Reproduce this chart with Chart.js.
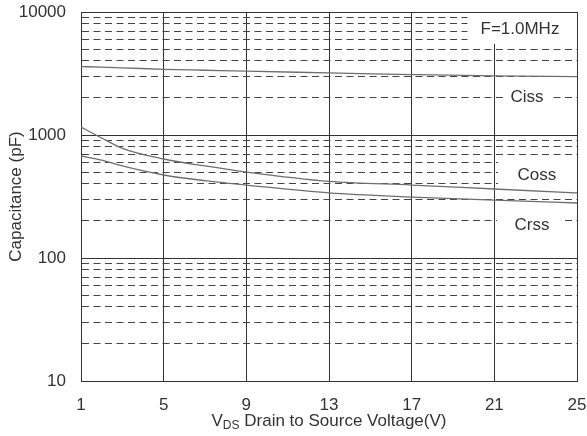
<!DOCTYPE html>
<html>
<head>
<meta charset="utf-8">
<script src="https://cdn.jsdelivr.net/npm/chart.js@4.4.0/dist/chart.umd.min.js"></script>
<style>
  html, body { margin: 0; padding: 0; background: #fff; }
</style>
</head>
<body>
<canvas id="capChart" width="587" height="436"></canvas>
<script>
// Capacitance vs. drain-source voltage
const xTicks = [1, 5, 9, 13, 17, 21, 25];
const decades = [10, 100, 1000, 10000];
const vds = [1, 2, 3, 5, 7, 9, 13, 17, 21, 25];
const ciss = [3600, 3560, 3520, 3420, 3360, 3300, 3200, 3100, 3020, 2980];
const coss = [1160, 946, 780, 638, 560, 500, 420, 392, 364, 338];
const crss = [675, 626, 560, 473, 425, 392, 338, 313, 296, 280];

// minor log ticks 20..90, 200..900, 2000..9000
const yTicks = [];
decades.forEach(function (d, i) {
    yTicks.push(d);
    if (i < decades.length - 1) {
        for (let m = 2; m <= 9; m++) yTicks.push(d * m);
    }
});

// text notes on the plot, anchored in data units
const notes = [
    { text: 'F=1.0MHz', x: 22.24, y: 7280, box: [19.7, 25, 9815, 5500] },
    { text: 'Ciss', x: 22.58, y: 2037, box: [21.42, 23.69, 2500, 1660] },
    { text: 'Coss', x: 23.06, y: 473, box: [21.18, 25, 662, 385] },
    { text: 'Crss', x: 22.82, y: 185, box: [21.13, 24.32, 245, 146] }
];

const FONT = "'Liberation Sans', Arial, sans-serif";
const TEXT = '#333';

function toPoints(ys) {
    return vds.map(function (x, i) { return { x: x, y: ys[i] }; });
}

const notePlugin = {
    id: 'notes',
    beforeDatasetsDraw(chart) {
        const c = chart.ctx;
        const xs = chart.scales.x, ys = chart.scales.y;
        c.save();
        notes.forEach(function (n) {
            const x0 = xs.getPixelForValue(n.box[0]);
            const x1 = xs.getPixelForValue(n.box[1]);
            const y0 = ys.getPixelForValue(n.box[2]);
            const y1 = ys.getPixelForValue(n.box[3]);
            c.fillStyle = '#fff';
            c.fillRect(x0, y0, x1 - x0, y1 - y0);
            c.fillStyle = TEXT;
            c.font = '17px ' + FONT;
            c.textAlign = 'center';
            c.textBaseline = 'middle';
            c.fillText(n.text, xs.getPixelForValue(n.x), ys.getPixelForValue(n.y));
        });
        c.restore();
    },
    afterDraw(chart) {
        // x axis title with subscript
        const c = chart.ctx;
        const area = chart.chartArea;
        const cx = (area.left + area.right) / 2;
        const cy = 420;
        const big = '17px ' + FONT, small = '12px ' + FONT;
        const rest = ' Drain to Source Voltage(V)';
        c.save();
        c.fillStyle = TEXT;
        c.textBaseline = 'alphabetic';
        c.textAlign = 'left';
        c.font = big;
        const wV = c.measureText('V').width;
        const wRest = c.measureText(rest).width;
        c.font = small;
        const wDS = c.measureText('DS').width;
        let x = cx - (wV + wDS + wRest) / 2;
        const base = cy + 6;
        c.font = big;
        c.fillText('V', x, base);
        x += wV;
        c.font = small;
        c.fillText('DS', x, base + 3);
        x += wDS;
        c.font = big;
        c.fillText(rest, x, base);
        c.restore();
    }
};

const ctx = document.getElementById('capChart').getContext('2d');
const capChart = new Chart(ctx, {
    type: 'line',
    data: {
        datasets: [{
            label: 'Ciss',
            data: toPoints(ciss),
            borderColor: '#6e6e6e',
            borderWidth: 1.3,
            pointRadius: 0,
            cubicInterpolationMode: 'monotone'
        }, {
            label: 'Coss',
            data: toPoints(coss),
            borderColor: '#6e6e6e',
            borderWidth: 1.3,
            pointRadius: 0,
            cubicInterpolationMode: 'monotone'
        }, {
            label: 'Crss',
            data: toPoints(crss),
            borderColor: '#6e6e6e',
            borderWidth: 1.3,
            pointRadius: 0,
            cubicInterpolationMode: 'monotone'
        }]
    },
    options: {
        responsive: false,
        animation: false,
        layout: { padding: { top: 12, right: 10, left: 0, bottom: 0 } },
        plugins: {
            legend: { display: false },
            tooltip: { enabled: false }
        },
        scales: {
            x: {
                type: 'linear',
                min: 1,
                max: 25,
                afterBuildTicks: function (scale) {
                    scale.ticks = xTicks.map(function (v) { return { value: v }; });
                },
                afterFit: function (scale) {
                    scale.height = 55;
                    scale.paddingLeft = 0;
                    scale.paddingRight = 0;
                },
                ticks: {
                    autoSkip: false,
                    maxRotation: 0,
                    padding: 14,
                    color: TEXT,
                    font: { family: FONT, size: 17 }
                },
                grid: { color: '#333', lineWidth: 1, drawTicks: false },
                border: { color: '#333', width: 1 }
            },
            y: {
                type: 'logarithmic',
                min: 10,
                max: 10000,
                afterBuildTicks: function (scale) {
                    scale.ticks = yTicks.map(function (v) {
                        return { value: v, major: decades.includes(v) };
                    });
                },
                afterFit: function (scale) {
                    scale.width = 81;
                    scale.paddingTop = 0;
                    scale.paddingBottom = 0;
                },
                ticks: {
                    autoSkip: false,
                    padding: 15,
                    color: TEXT,
                    font: { family: FONT, size: 17 },
                    callback: function (v) { return decades.includes(v) ? String(v) : ''; }
                },
                grid: {
                    color: function (c) { return c.tick && !decades.includes(c.tick.value) ? '#444' : '#333'; },
                    lineWidth: 1,
                    drawTicks: false
                },
                border: {
                    color: '#333',
                    width: 1,
                    dash: function (c) {
                        return c.tick && !decades.includes(c.tick.value) ? [7, 4.5] : [];
                    }
                },
                title: {
                    display: true,
                    text: 'Capacitance (pF)',
                    color: TEXT,
                    font: { family: FONT, size: 17 },
                    padding: { top: 6, bottom: 0 }
                }
            }
        }
    },
    plugins: [notePlugin]
});
</script>
</body>
</html>
